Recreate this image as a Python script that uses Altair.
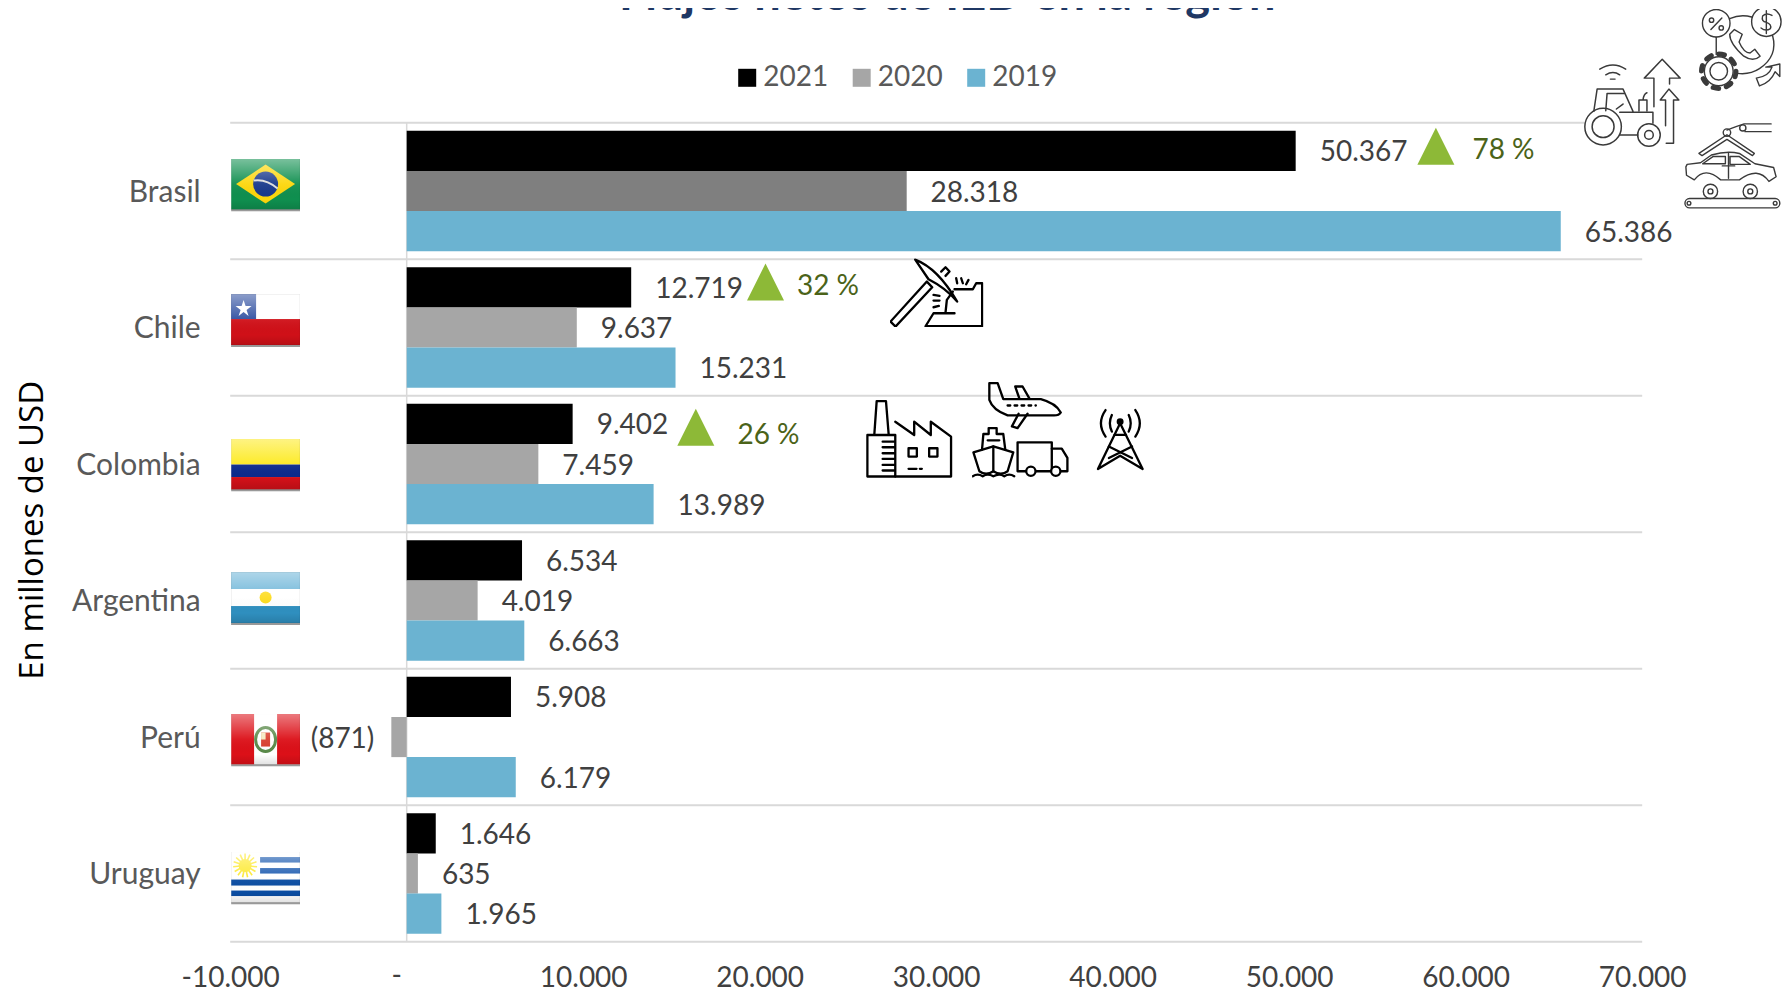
import base64
import altair as alt
import pandas as pd

countries = ["Brasil", "Chile", "Colombia", "Argentina", "Perú", "Uruguay"]
series = ["2021", "2020", "2019"]
v2021 = [50367, 12719, 9402, 6534, 5908, 1646]
v2020 = [28318, 9637, 7459, 4019, -871, 635]
v2019 = [65386, 15231, 13989, 6663, 6179, 1965]
l2021 = ["50.367", "12.719", "9.402", "6.534", "5.908", "1.646"]
l2020 = ["28.318", "9.637", "7.459", "4.019", "(871)", "635"]
l2019 = ["65.386", "15.231", "13.989", "6.663", "6.179", "1.965"]
ticks = [-10000, 10000, 20000, 30000, 40000, 50000, 60000, 70000]
growth_country = ["Brasil", "Chile", "Colombia"]
growth_label = ["78 %", "32 %", "26 %"]

LAB = "#404040"
FONT = "Lato"


def uri(svg):
    return "data:image/svg+xml;base64," + base64.b64encode(svg.encode()).decode()


GLOSS = ('<defs><linearGradient id="g" x1="0" y1="0" x2="0" y2="1">'
         '<stop offset="0" stop-color="#fff" stop-opacity=".45"/>'
         '<stop offset=".5" stop-color="#fff" stop-opacity=".05"/>'
         '<stop offset=".8" stop-color="#000" stop-opacity="0"/>'
         '<stop offset="1" stop-color="#000" stop-opacity=".12"/></linearGradient></defs>')


def flag(body):
    return uri('<svg xmlns="http://www.w3.org/2000/svg" viewBox="0 0 69 53" width="69" height="53">' + GLOSS
               + '<rect x="0" y="50.5" width="69" height="2.5" fill="#999"/>'
               + '<svg x="0" y="0" width="69" height="51" viewBox="0 0 69 51">' + body + '</svg>'
               + '<rect width="69" height="51" fill="url(#g)"/>'
               + '<rect x=".25" y=".25" width="68.5" height="50.5" fill="none" stroke="#000" stroke-opacity=".1" stroke-width=".5"/></svg>')


sun_rays = "".join(f'<path d="M14 14 L14 2" transform="rotate({a} 14 14)" stroke="#fde930" stroke-width="1.6"/>' for a in range(0, 360, 24))
flags = {
    "Brasil": flag('<rect width="69" height="51" fill="#0f8f4f"/><path d="M34.5 6 L64 25.5 L34.5 45 L5 25.5Z" fill="#fdd70c"/>'
                   '<circle cx="34.5" cy="25.5" r="12.5" fill="#1a3a8c"/><path d="M22.5 22 Q35 20 46.5 30" stroke="#ddd" stroke-width="2" fill="none"/>'),
    "Chile": flag('<rect width="69" height="25" fill="#fff"/><rect y="25" width="69" height="26" fill="#d01018"/>'
                  '<rect width="25" height="25" fill="#2f4fa0"/><path d="M12.5 6l2 6h6l-5 4 2 6-5-4-5 4 2-6-5-4h6z" fill="#fff"/>'),
    "Colombia": flag('<rect width="69" height="26" fill="#fdea20"/><rect y="26" width="69" height="12.5" fill="#0a2a8c"/>'
                     '<rect y="38.5" width="69" height="12.5" fill="#d01018"/>'),
    "Argentina": flag('<rect width="69" height="17" fill="#6db5d8"/><rect y="17" width="69" height="17" fill="#fff"/>'
                      '<rect y="34" width="69" height="17" fill="#2f8fbf"/><circle cx="34.5" cy="25.5" r="6" fill="#fddc20"/>'),
    "Perú": flag('<rect width="69" height="51" fill="#fff"/><rect width="23" height="51" fill="#dc1018"/><rect x="46" width="23" height="51" fill="#dc1018"/>'
                 '<ellipse cx="34.5" cy="26" rx="10" ry="12" fill="none" stroke="#5a8a4a" stroke-width="3"/><rect x="30" y="19" width="9" height="14" fill="#d94030"/><rect x="30" y="19" width="4.5" height="7" fill="#f5e9c0"/>'),
    "Uruguay": flag('<rect width="69" height="51" fill="#fff"/><rect x="29" y="5.5" width="40" height="5.5" fill="#1e5cb0"/><rect x="29" y="16.5" width="40" height="5.5" fill="#1e5cb0"/>'
                    '<rect y="28" width="69" height="6" fill="#0b4da2"/><rect y="39" width="69" height="5.5" fill="#0b4da2"/>'
                    + sun_rays + '<circle cx="14" cy="14" r="6.5" fill="#fde930"/>'),
}
flag_offset = {"Brasil": -6, "Chile": -7, "Colombia": 1, "Argentina": -2, "Perú": 3, "Uruguay": 4.5}


def icon(w, h, vb, body, sw=7, col="#000", bg=""):
    x0, y0, vw, vh = vb
    back = f'<rect x="{x0}" y="{y0}" width="{vw}" height="{vh}" fill="#fff"/>' if bg else ""
    return uri(f'<svg xmlns="http://www.w3.org/2000/svg" viewBox="{x0} {y0} {vw} {vh}" width="{w}" height="{h}">{back}'
               f'<g fill="none" stroke="{col}" stroke-width="{sw}" stroke-linejoin="round" stroke-linecap="round">{body}</g></svg>')


pick = icon(94, 69, (90, 25, 282, 207),
            '<path d="M93 215 L108 230 L218 112 L202 95Z"/>'
            '<path d="M167 29 Q235 55 293 155 Q260 115 207 88 Z"/><path d="M245 65 L258 52 L270 65 L258 78"/>'
            '<path d="M285 118 H340 L350 100 H368 V229 H198 L222 190 H285 M258 188 L262 150 L280 125"/>'
            '<path d="M290 85 L293 100 M305 85 L310 100 M327 90 L320 103 M222 135 L240 138 M222 152 L240 152 M222 172 L238 168"/>')
factory = icon(87, 79, (20, 448, 262, 236),
               '<path d="M45 552 L52 453 H80 L88 552"/><path d="M24 555 H108 V680 H24 Z"/>'
               '<path d="M108 515 L165 555 V515 L215 555 V515 L276 560 V680 H108"/>'
               '<path d="M70 575 H105 M70 592 H105 M70 610 H105 M70 627 H105 M70 645 H105 M70 662 H105"/>'
               '<rect x="148" y="595" width="25" height="25"/><rect x="210" y="595" width="25" height="25"/>'
               '<path d="M148 657 H172 M182 657 H188"/>')
transport = icon(97, 97, (338, 395, 292, 292),
                 '<path d="M390 400 H415 L432 448 H545 Q590 460 605 488 Q600 497 585 497 H445 Q400 480 390 450 Z"/>'
                 '<path d="M468 410 H490 L510 445 M468 410 L480 445"/><path d="M478 492 L458 530 L475 535 L505 492"/>'
                 '<path d="M445 467 H530" stroke-dasharray="8 13"/>'
                 '<path d="M368 600 L372 553 H388 V535 H412 V553 H432 L438 600"/><path d="M342 608 L402 590 L462 608 L445 665 Q425 680 402 665 Q380 680 360 665 Z"/>'
                 '<path d="M402 590 V665 M385 572 H420"/><path d="M340 680 Q355 670 370 680 Q385 670 402 680 Q420 670 435 680 Q450 670 465 680"/>'
                 '<path d="M475 578 H578 V665 H475 Z"/><path d="M578 597 H608 L625 625 V665 H578"/>'
                 '<circle cx="515" cy="665" r="14" fill="#fff"/><circle cx="590" cy="665" r="14" fill="#fff"/>')
tower = icon(48, 65, (710, 470, 145, 195),
             '<path d="M782 520 L715 658 L782 618 L850 658 Z"/><path d="M765 555 H800 M748 590 L818 625 M818 590 L748 625"/>'
             '<circle cx="782" cy="515" r="7" fill="#000"/><path d="M757 495 Q745 520 757 545 M808 495 Q820 520 808 545 M738 480 Q710 520 738 560 M828 480 Q855 520 828 560"/>')
tractor = icon(98, 99, (42, 152, 294, 298),
               '<circle cx="100" cy="378" r="55"/><circle cx="100" cy="378" r="33"/><circle cx="238" cy="403" r="34"/><circle cx="238" cy="403" r="13"/>'
               '<path d="M72 332 L82 265 H160 L190 332 M108 330 L112 278 H165 M150 335 H250 V368 M150 403 H205 M208 330 V298 H232 V330 M220 298 Q222 280 232 276 M140 325 L160 310"/>'
               '<path d="M90 205 Q130 180 168 205 M108 222 Q130 208 150 222 M122 235 H136"/>'
               '<path d="M253 318 V232 H224 L278 175 L332 232 H300 V250 M288 375 V298 H272 L298 265 L328 298 H312 V428 H290"/>',
               sw=4.5, col="#3a3a3a", bg=1)
finance = icon(86, 83, (393, 18, 273, 265),
               '<circle cx="452" cy="65" r="44"/><circle cx="612" cy="60" r="47"/><path d="M495 50 Q530 35 565 45 M632 105 Q650 170 590 210 Q560 230 520 225"/>'
               '<path d="M510 85 L535 100 L525 125 Q540 160 560 160 L575 148 L592 170 Q570 190 540 170 Q495 130 495 100 Z"/>'
               '<circle cx="460" cy="218" r="55" stroke-width="16" stroke-dasharray="18 25"/><circle cx="460" cy="218" r="46" fill="#fff"/><circle cx="460" cy="218" r="28"/>'
               '<path d="M452 110 V165"/><path d="M580 240 Q620 235 630 205 L610 205 L655 195 L655 235 L640 220 Q625 255 590 265 Z"/>'
               '<path d="M435 85 L470 48"/><circle cx="437" cy="55" r="7"/><circle cx="468" cy="80" r="7"/>'
               '<path d="M630 40 Q612 30 600 42 Q595 60 612 62 Q630 68 625 82 Q610 92 595 80 M612 25 V98"/>',
               sw=4.5, col="#3a3a3a")
car = icon(98, 89, (350, 353, 315, 285),
           '<path d="M632 360 H545 Q530 365 490 380 M632 385 H548"/><circle cx="541" cy="373" r="10"/><circle cx="490" cy="388" r="12"/>'
           '<path d="M400 455 L490 395 L578 455 L572 462 L490 410 L410 462 Z"/>'
           '<path d="M358 498 L362 490 L405 485 L440 460 Q490 445 530 455 L580 488 L640 500 L648 530 L625 545 Q590 495 530 540 H470 Q420 495 385 540 L360 525 Z"/>'
           '<path d="M412 488 L445 465 H485 V488 Z M500 465 H530 L565 490 H500 Z M495 455 V535 M475 495 H515"/>'
           '<circle cx="437" cy="577" r="23"/><circle cx="437" cy="577" r="8"/><circle cx="565" cy="577" r="23"/><circle cx="565" cy="577" r="8"/>'
           '<rect x="355" y="600" width="305" height="30" rx="15"/><circle cx="368" cy="615" r="6"/><circle cx="645" cy="615" r="6"/>',
           sw=4.5, col="#3a3a3a")

icons = [
    (pick, 94, 69, 30018, "Chile", -34.8),
    (factory, 87, 79, 28490, "Colombia", -25.4),
    (transport, 97, 97, 34780, "Colombia", -34),
    (tower, 48, 65, 40430, "Colombia", -25),
    (tractor, 98, 99, 69460, "Brasil", -90),
    (finance, 86, 83, 75570, "Brasil", -141),
    (car, 98, 89, 75110, "Brasil", -25),
]

rows = []
for s, vals, labs in [("2021", v2021, l2021), ("2020", v2020, l2020), ("2019", v2019, l2019)]:
    for c, v, l in zip(countries, vals, labs):
        rows.append({"country": c, "series": s, "value": v, "label": l})
df = pd.DataFrame(rows)

yscale = alt.Scale(domain=countries, paddingInner=0, paddingOuter=0)
offs = alt.YOffset("series:N", sort=series,
                   scale=alt.Scale(domain=series, paddingInner=0, paddingOuter=0.2))
xscale = alt.Scale(domain=[-10000, 70000], nice=False, zero=False)
xaxis = alt.Axis(values=ticks, grid=False, domain=False, ticks=False, title=None, labelFont=FONT,
                 labelFontSize=28, labelColor=LAB, labelPadding=23, labelOverlap=False, labelFlush=False,
                 labelExpr="replace(replace(format(datum.value, ','), ',', '.'), '−', '-')")
yaxis = alt.Axis(domain=False, ticks=False, grid=False, title="En millones de USD", labelFont=FONT,
                 labelFontSize=30, labelColor="#595959", labelPadding=30, labelOffset=1.5, titleFont="Open Sans", titleFontSize=33,
                 titleFontWeight="normal", titleColor="#000", titleX=-181, titleY=407, labelFontWeight="normal")


def Y(**kw):
    return alt.Y("country:N", sort=countries, scale=yscale, axis=yaxis, title="En millones de USD", **kw)


def X(f="value"):
    return alt.X(f"{f}:Q", scale=xscale, axis=xaxis, title=None)


base = alt.Chart(df)
grid = alt.Chart(pd.DataFrame({"country": countries}))
gtop = grid.mark_rule(color="#D9D9D9", strokeWidth=2).encode(y=Y(bandPosition=0))
gbot = grid.transform_filter(alt.datum.country == "Uruguay").mark_rule(color="#D9D9D9", strokeWidth=2).encode(y=Y(bandPosition=1))
zero = alt.Chart(pd.DataFrame({"zero": [0]})).mark_rule(color="#D9D9D9", strokeWidth=1.5).encode(x=X("zero"))
zero_label = alt.Chart(pd.DataFrame({"zl": [-570], "t": ["-"]})).mark_text(
    align="center", baseline="middle", font=FONT, fontSize=28, color=LAB
).encode(x=X("zl"), y=alt.value(854), text="t:N")

bars = base.mark_bar().encode(
    x=X(), y=Y(), yOffset=offs,
    color=alt.Color("series:N", scale=alt.Scale(domain=series, range=["#000000", "#A6A6A6", "#6BB3D1"]),
                    legend=alt.Legend(title=None, orient="none", legendX=503, legendY=-59, direction="horizontal", columns=3,
                                      symbolType="square", symbolSize=324, symbolStrokeWidth=0, labelFont=FONT, labelFontSize=28,
                                      labelColor="#595959", columnPadding=19.5, labelOffset=2)),
)
bar_br = base.transform_filter("datum.country == 'Brasil' && datum.series == '2020'").mark_bar(color="#7F7F7F").encode(
    x=X(), y=Y(), yOffset=offs)
pos = base.transform_filter("datum.value >= 0").mark_text(align="left", baseline="middle", dx=24, dy=2.5, font=FONT, fontSize=28, color=LAB).encode(
    x=X(), y=Y(), yOffset=offs, text="label:N")
neg = base.transform_filter("datum.value < 0").mark_text(align="right", baseline="middle", dx=-17, dy=2.5, font=FONT, fontSize=28, color=LAB).encode(
    x=X(), y=Y(), yOffset=offs, text="label:N")

layers = [gtop, gbot, zero, zero_label, bars, bar_br, pos, neg]

tri_x = [58310, 20330, 16380]
pct_x = [62140, 23870, 20500]
tri_dy = [-44.7, -45.5, -36.7]
pct_dy = [-40, -41, -28.5]
for c, xv, xl, dy, pdy, t in zip(growth_country, tri_x, pct_x, tri_dy, pct_dy, growth_label):
    d = pd.DataFrame({"country": [c], "tri": [xv], "lab": [xl], "t": [t]})
    layers.append(alt.Chart(d).mark_point(shape="M-1,1L0,-1L1,1Z", filled=True, opacity=1, size=1369, color="#8DB937", yOffset=dy).encode(x=X("tri"), y=Y()))
    layers.append(alt.Chart(d).mark_text(align="center", baseline="middle", font=FONT, fontSize=28, color="#4B6319", yOffset=pdy).encode(x=X("lab"), y=Y(), text="t:N"))

for c, off in flag_offset.items():
    d = pd.DataFrame({"country": [c], "fx": [-7995], "u": [flags[c]]})
    layers.append(alt.Chart(d).mark_image(width=69, height=53, aspect=False, yOffset=off).encode(x=X("fx"), y=Y(), url="u:N"))

for u, w, h, xv, c, off in icons:
    d = pd.DataFrame({"country": [c], "ix": [xv], "u": [u]})
    layers.append(alt.Chart(d).mark_image(width=w, height=h, aspect=False, yOffset=off).encode(x=X("ix"), y=Y(), url="u:N"))

title = alt.Chart(pd.DataFrame({"t": ["Flujos netos de IED en la región"]})).mark_text(
    align="center", baseline="alphabetic", font=FONT, fontSize=47, fontWeight="bold", color="#1F3864"
).encode(x=alt.value(717), y=alt.value(-112.5), text="t:N")
layers.append(title)

chart = alt.layer(*layers).resolve_scale(x="shared", y="shared").properties(
    width=1412, height=819,
    padding={"left": 222.2, "top": 114.8, "right": 141.8, "bottom": 46},
    autosize=alt.AutoSizeParams(type="none"),
).configure_view(stroke=None)

chart.save("out.html", embed_options={"renderer": "svg", "actions": False})
